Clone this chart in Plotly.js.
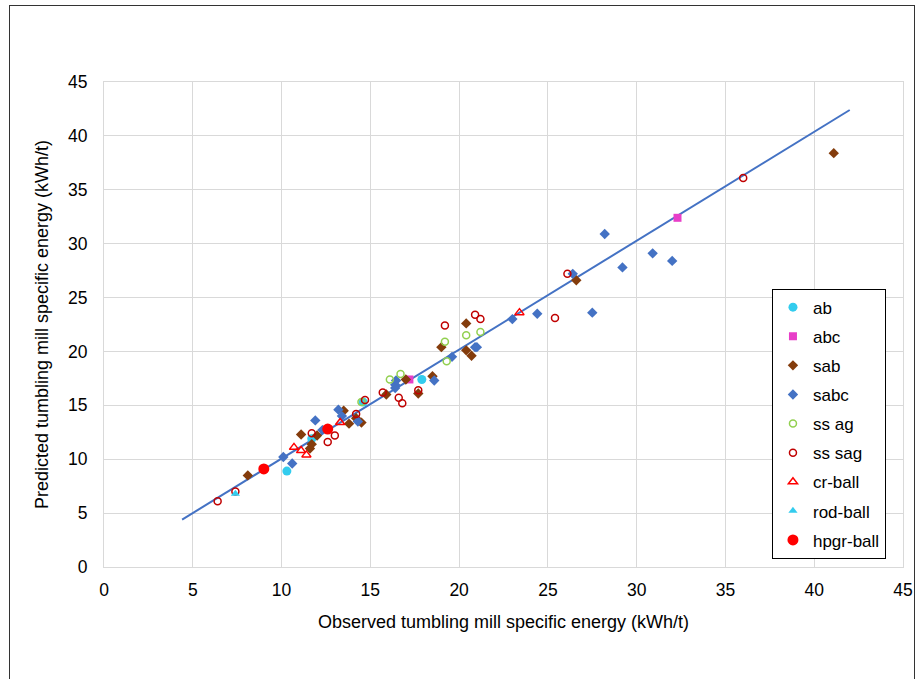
<!DOCTYPE html>
<html>
<head>
<meta charset="utf-8">
<script src="https://cdn.plot.ly/plotly-3.0.1.min.js"></script>
<style>
  html, body { margin: 0; padding: 0; background: #fff; overflow: hidden; }
  #frame { position: absolute; left: 9px; top: 5px; width: 906px; height: 700px; border: 1px solid #333; box-sizing: border-box; pointer-events: none; z-index: 5; }
  #chart { position: absolute; left: 0; top: 0; width: 921px; height: 679px; }
</style>
</head>
<body>
<div id="chart"></div>
<div id="frame"></div>
<script>
// ---- data ----
const abX = [10.3, 11.7, 14.6, 17.9];
const abY = [8.9, 11.9, 15.3, 17.4];

const abcX = [17.2, 32.3];
const abcY = [17.4, 32.4];

const sabX = [8.1, 11.1, 11.6, 11.7, 12.0, 13.5, 13.8, 14.2, 14.5, 15.9, 17.0, 17.7, 18.5, 19.0, 20.4, 20.4, 20.7, 26.6, 41.1];
const sabY = [8.5, 12.3, 11.0, 11.4, 12.2, 14.5, 13.3, 13.8, 13.4, 16.0, 17.4, 16.1, 17.7, 20.4, 22.6, 20.1, 19.6, 26.6, 38.4];

const sabcX = [10.1, 10.6, 11.9, 12.3, 13.2, 13.4, 14.3, 16.4, 16.4, 16.45, 18.6, 19.6, 20.9, 21.0, 23.0, 24.4, 27.5, 26.4, 28.2, 29.2, 30.9, 32.0];
const sabcY = [10.2, 9.6, 13.6, 12.7, 14.6, 14.0, 13.5, 16.6, 16.9, 17.3, 17.3, 19.5, 20.4, 20.4, 23.0, 23.5, 23.6, 27.2, 30.9, 27.8, 29.1, 28.4];

const ssagX = [14.5, 16.1, 16.7, 19.2, 19.3, 20.4, 21.2];
const ssagY = [15.3, 17.4, 17.9, 20.9, 19.1, 21.5, 21.8];

const sssagX = [6.4, 7.4, 11.7, 12.6, 13.0, 14.2, 14.7, 15.7, 16.6, 16.8, 17.7, 19.2, 20.9, 21.2, 25.4, 26.1, 36.0];
const sssagY = [6.1, 7.0, 12.4, 11.6, 12.2, 14.2, 15.5, 16.2, 15.7, 15.2, 16.4, 22.4, 23.4, 23.0, 23.1, 27.2, 36.1];

const crballX = [10.7, 11.1, 11.4, 13.3, 23.4];
const crballY = [11.1, 10.8, 10.4, 13.4, 23.6];

const rodballX = [7.4];
const rodballY = [6.8];

const hpgrX = [9.0, 12.6];
const hpgrY = [9.1, 12.8];

const fitX = [4.4, 42.0];
const fitY = [4.4, 42.4];

const xTicks = [0, 5, 10, 15, 20, 25, 30, 35, 40, 45];
const yTicks = [0, 5, 10, 15, 20, 25, 30, 35, 40, 45];

// ---- traces ----
function sc(name, x, y, marker) {
  return { type: 'scatter', mode: 'markers', name: name, x: x, y: y, marker: marker, legendgroup: name, showlegend: true };
}

const traces = [
  { type: 'scatter', mode: 'lines', x: fitX, y: fitY, line: { color: '#4472c4', width: 2 }, showlegend: false, hoverinfo: 'skip' },
  sc('ab', abX, abY, { symbol: 'circle', size: 9, color: '#33ccee' }),
  sc('abc', abcX, abcY, { symbol: 'square', size: 8, color: '#e83ec8' }),
  sc('sab', sabX, sabY, { symbol: 'diamond', size: 8, color: '#843c0c' }),
  sc('sabc', sabcX, sabcY, { symbol: 'diamond', size: 8, color: '#4472c4' }),
  sc('ss ag', ssagX, ssagY, { symbol: 'circle-open', size: 7, color: '#92d050', line: { width: 1.5 } }),
  sc('ss sag', sssagX, sssagY, { symbol: 'circle-open', size: 7, color: '#c00000', line: { width: 1.5 } }),
  sc('cr-ball', crballX, crballY, { symbol: 'triangle-up-open', size: 8, color: '#ff0000', line: { width: 1.5 } }),
  sc('rod-ball', rodballX, rodballY, { symbol: 'triangle-up', size: 8, color: '#33ccee' }),
  sc('hpgr-ball', hpgrX, hpgrY, { symbol: 'circle', size: 11, color: '#ff0000' })
];

const font = { family: '"Liberation Sans", Arial, sans-serif', color: '#000' };

const layout = {
  width: 921, height: 679,
  margin: { l: 104, r: 18, t: 82, b: 112 },
  paper_bgcolor: '#fff', plot_bgcolor: '#fff',
  font: Object.assign({ size: 17 }, font),
  showlegend: true,
  xaxis: {
    range: [0, 45], tickvals: xTicks, ticktext: xTicks.map(String),
    showgrid: true, gridcolor: '#d9d9d9', gridwidth: 1,
    zeroline: false, showline: true, mirror: true, linecolor: '#d9d9d9', linewidth: 1,
    ticks: 'outside', ticklen: 7, tickcolor: 'rgba(0,0,0,0)',
    tickfont: Object.assign({ size: 17.5 }, font),
    title: { text: 'Observed tumbling mill specific energy (kWh/t)', font: Object.assign({ size: 18 }, font), standoff: 16 }
  },
  yaxis: {
    range: [0, 45], tickvals: yTicks, ticktext: yTicks.map(String),
    showgrid: true, gridcolor: '#d9d9d9', gridwidth: 1,
    zeroline: false, showline: true, mirror: true, linecolor: '#d9d9d9', linewidth: 1,
    ticks: 'outside', ticklen: 12, tickcolor: 'rgba(0,0,0,0)',
    tickfont: Object.assign({ size: 17.5 }, font),
    title: { text: 'Predicted tumbling mill specific energy (kWh/t)', font: Object.assign({ size: 18 }, font), standoff: 14 }
  },
  legend: {
    x: 0.836, y: 0.574, xanchor: 'left', yanchor: 'top',
    bgcolor: '#fff', bordercolor: '#000', borderwidth: 1,
    font: Object.assign({ size: 17 }, font),
    tracegroupgap: 4
  }
};

Plotly.newPlot('chart', traces, layout, { displayModeBar: false, staticPlot: true });
</script>
</body>
</html>
